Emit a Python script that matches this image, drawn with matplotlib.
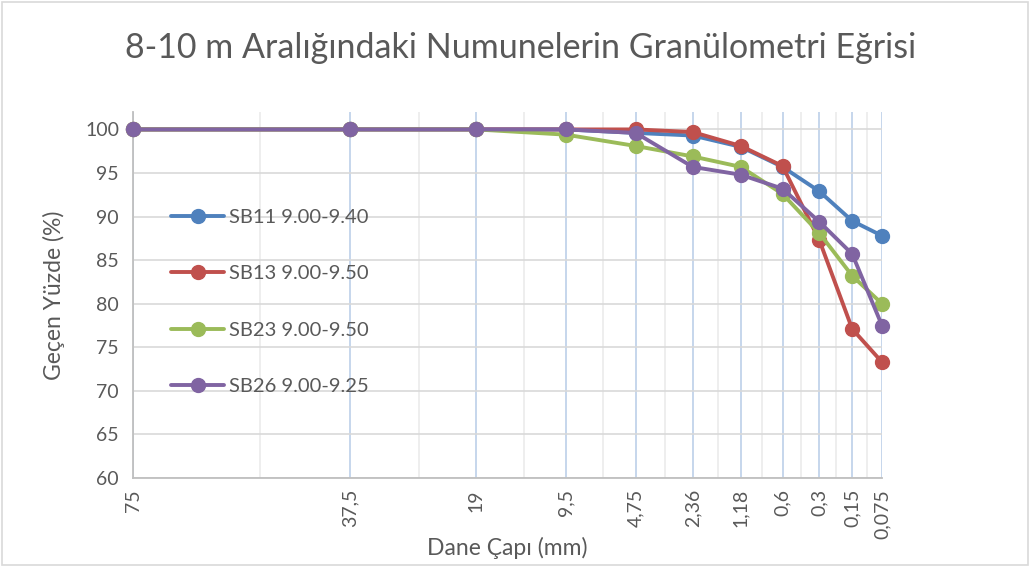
import numpy as np
import matplotlib
matplotlib.use("Agg")
from matplotlib import pyplot as plt
from matplotlib.patches import Rectangle
from matplotlib.ticker import FixedLocator, NullFormatter

plt.rcParams['font.family'] = ['Lato', 'DejaVu Sans']

# Sieve sizes (mm), plotted as sieve index 1..11 on a log axis
sieve_labels = ["75", "37,5", "19", "9,5", "4,75", "2,36", "1,18", "0,6", "0,3", "0,15", "0,075"]
sieve_pos = np.arange(1, len(sieve_labels) + 1)

# Passing percentages for each sample
sb11 = [100, 100, 100, 100, 99.6, 99.3, 98.0, 95.7, 92.9, 89.5, 87.8]
sb13 = [100, 100, 100, 100, 100.0, 99.7, 98.1, 95.8, 87.3, 77.1, 73.3]
sb23 = [100, 100, 100, 99.4, 98.1, 96.9, 95.7, 92.6, 88.1, 83.2, 80.0]
sb26 = [100, 100, 100, 100, 99.6, 95.7, 94.8, 93.2, 89.4, 85.7, 77.5]

series = [
    ("SB11 9.00-9.40", sb11, "#4F81BD"),
    ("SB13 9.00-9.50", sb13, "#C0504D"),
    ("SB23 9.00-9.50", sb23, "#9BBB59"),
    ("SB26 9.00-9.25", sb26, "#8064A2"),
]

text_col = "#595959"

fig = plt.figure(figsize=(10.31, 5.67), dpi=100)
ax = fig.add_axes([133 / 1031, 89 / 567, 749 / 1031, 366 / 567])

for name, vals, col in series:
    ax.plot(sieve_pos, vals, "-o", color=col, lw=2.8, ms=10, label=name,
            solid_capstyle="round", clip_on=False, zorder=3)

ax.set_xscale("log")
ax.set_xlim(1, 11)
ax.set_ylim(60, 102)
ax.set_yticks(np.arange(60, 101, 5))

ax.xaxis.set_major_locator(FixedLocator(sieve_pos))
ax.set_xticklabels(sieve_labels, rotation=90, va="top")
ax.xaxis.set_minor_locator(FixedLocator(sieve_pos[:-1] + 0.5))
ax.xaxis.set_minor_formatter(NullFormatter())

ax.grid(axis="y", color="#D9D9D9", lw=1.2)
ax.grid(axis="x", which="major", color="#C6D6EC", lw=1.4)
ax.grid(axis="x", which="minor", color="#EBEBEB", lw=1.2)
ax.set_axisbelow(True)

ax.tick_params(axis="both", which="both", length=0, labelsize=14,
               labelcolor=text_col)
ax.tick_params(axis="x", pad=8)
ax.tick_params(axis="y", pad=10)
for side in ["top", "right"]:
    ax.spines[side].set_visible(False)
for side in ["left", "bottom"]:
    ax.spines[side].set_color("#BFBFBF")
    ax.spines[side].set_linewidth(1.3)

ax.set_xlabel("Dane Çapı (mm)", fontsize=16.5, color=text_col)
ax.set_ylabel("Geçen Yüzde (%)", fontsize=16.5, color=text_col)
ax.xaxis.set_label_coords(0.5, -0.162)
ax.yaxis.set_label_coords(-0.091, 0.5)

fig.text(0.505, 0.915, "8-10 m Aralığındaki Numunelerin Granülometri Eğrisi",
         fontsize=24.5, color=text_col, ha="center", va="center")

leg = ax.legend(loc="upper left", bbox_to_anchor=(0.027, 0.785), frameon=False,
                fontsize=14.5, labelspacing=1.95, handlelength=2.6,
                handletextpad=0.25, labelcolor=text_col)

# chart-area border
fig.patches.append(Rectangle((0.002, 0.004), 0.995, 0.992, transform=fig.transFigure,
                             fill=False, edgecolor="#D9D9D9", lw=1.2))

fig.savefig("out.png", dpi=100)
